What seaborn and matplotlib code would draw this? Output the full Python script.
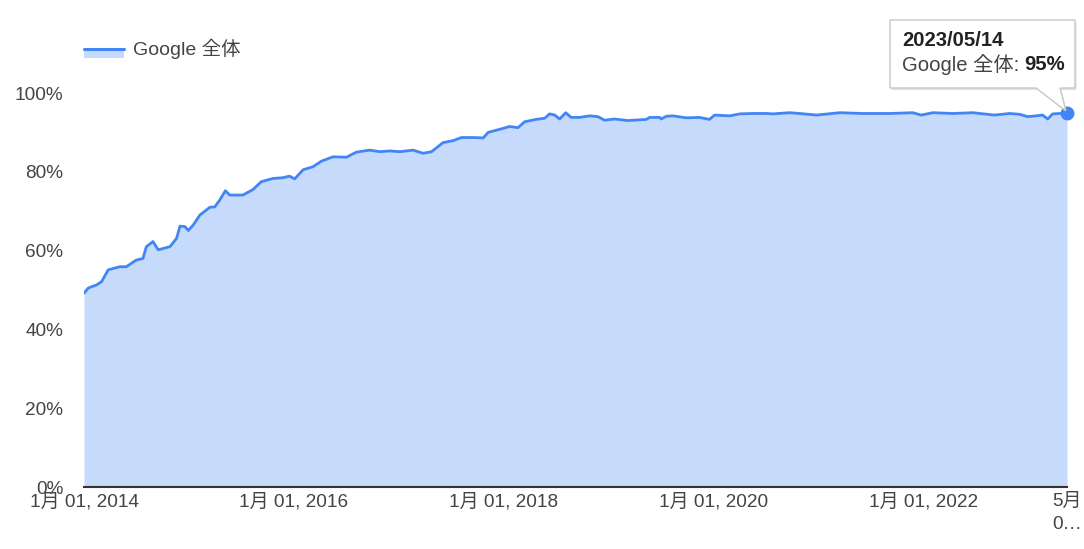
import numpy as np
import pandas as pd
import matplotlib
matplotlib.use("Agg")
import matplotlib.pyplot as plt
import matplotlib.dates as mdates
from matplotlib.patches import Polygon, Rectangle
from matplotlib.lines import Line2D
import seaborn as sns

# ---------------- data ----------------
dates = [
    "2014-01-01", "2014-01-16", "2014-02-14", "2014-03-03", "2014-03-26", "2014-05-05",
    "2014-05-28", "2014-07-02", "2014-07-25", "2014-08-06", "2014-08-29", "2014-09-16",
    "2014-10-27", "2014-11-19", "2014-12-01", "2014-12-18", "2014-12-30", "2015-01-16",
    "2015-02-08", "2015-03-15", "2015-04-01", "2015-04-18", "2015-05-08", "2015-05-23",
    "2015-06-15", "2015-07-08", "2015-08-12", "2015-09-10", "2015-10-20", "2015-11-24",
    "2015-12-17", "2016-01-04", "2016-02-02", "2016-03-08", "2016-04-06", "2016-05-16",
    "2016-07-02", "2016-08-06", "2016-09-21", "2016-10-26", "2016-11-30", "2017-01-04",
    "2017-02-19", "2017-03-26", "2017-04-24", "2017-06-03", "2017-07-08", "2017-08-06",
    "2017-09-16", "2017-10-21", "2017-11-07", "2017-12-18", "2018-01-21", "2018-02-19",
    "2018-03-14", "2018-04-23", "2018-05-23", "2018-06-09", "2018-06-27", "2018-07-14",
    "2018-08-04", "2018-08-23", "2018-09-21", "2018-10-26", "2018-11-24", "2018-12-17",
    "2019-01-21", "2019-03-08", "2019-05-11", "2019-05-23", "2019-06-27", "2019-07-02",
    "2019-07-20", "2019-08-11", "2019-09-27", "2019-11-12", "2019-12-17", "2020-01-04",
    "2020-02-25", "2020-04-01", "2020-05-16", "2020-07-02", "2020-07-25", "2020-09-21",
    "2020-10-26", "2020-12-23", "2021-03-15", "2021-06-03", "2021-09-04", "2021-11-23",
    "2021-12-23", "2022-02-01", "2022-04-11", "2022-06-20", "2022-09-04", "2022-10-26",
    "2022-11-30", "2022-12-28", "2023-01-26", "2023-02-18", "2023-03-08", "2023-03-25",
    "2023-04-18", "2023-05-14",
]
values = [
    49.2, 50.5, 51.3, 52.1, 55.1, 55.9,
    55.9, 57.6, 58.0, 61.0, 62.3, 60.2,
    61.0, 63.1, 66.2, 66.1, 65.1, 66.5,
    69.0, 71.0, 71.1, 72.8, 75.2, 74.1,
    74.1, 74.1, 75.5, 77.5, 78.3, 78.5,
    78.9, 78.2, 80.5, 81.3, 82.7, 83.8,
    83.7, 85.0, 85.5, 85.1, 85.3, 85.1,
    85.5, 84.7, 85.1, 87.4, 87.9, 88.7,
    88.7, 88.6, 90.0, 90.8, 91.5, 91.2,
    92.7, 93.3, 93.6, 94.7, 94.4, 93.4,
    95.0, 93.8, 93.8, 94.2, 94.0, 93.1,
    93.4, 93.0, 93.3, 93.8, 93.8, 93.4,
    94.1, 94.2, 93.7, 93.8, 93.3, 94.4,
    94.2, 94.7, 94.8, 94.8, 94.7, 95.0,
    94.8, 94.4, 95.0, 94.8, 94.8, 95.0,
    94.4, 95.0, 94.8, 95.0, 94.4, 94.8,
    94.6, 94.0, 94.2, 94.4, 93.4, 94.7,
    94.8, 95.0,
]
series_name = "Google 全体"
tick_dates = ["2014-01-01", "2016-01-01", "2018-01-01", "2020-01-01", "2022-01-01", "2023-05-14"]
tick_labels = ["1月 01, 2014", "1月 01, 2016", "1月 01, 2018", "1月 01, 2020", "1月 01, 2022", "5月\n0…"]
y_ticks = [0, 20, 40, 60, 80, 100]
y_tick_labels = ["0%", "20%", "40%", "60%", "80%", "100%"]
tooltip_date = "2023/05/14"
tooltip_value = "95%"

# ---------------- style ----------------
LINE = "#4285F4"
FILL = "#C6DAFB"
TXT = "#444444"

sns.set_theme(style="white")
plt.rcParams["font.family"] = ["Liberation Sans", "Noto Sans CJK JP", "DejaVu Sans"]

df = pd.DataFrame({"date": pd.to_datetime(dates), "value": values})

W, H = 1084, 549
fig = plt.figure(figsize=(W / 100, H / 100), dpi=100)
ax = fig.add_axes([84 / W, 1 - 487 / H, (1067 - 84) / W, (487 - 93) / H])

ax.fill_between(df["date"], 0, df["value"], color=FILL, linewidth=0, zorder=1)
sns.lineplot(data=df, x="date", y="value", ax=ax, color=LINE, linewidth=2.0, zorder=3)
ax.plot(df["date"].iloc[-1:], df["value"].iloc[-1:], "o", color=LINE,
        markersize=9, zorder=6, clip_on=False)

ax.set_xlim(df["date"].iloc[0], df["date"].iloc[-1])
ax.set_ylim(0, 100)
ax.set_xlabel("")
ax.set_ylabel("")

ax.set_yticks(y_ticks)
ax.set_yticklabels(y_tick_labels, fontsize=13.7, color=TXT)
ax.set_xticks(pd.to_datetime(tick_dates))
ax.set_xticklabels(tick_labels, fontsize=13.7, color=TXT)
ax.tick_params(axis="y", length=0, pad=15)
ax.tick_params(axis="x", length=0, pad=4)
last = ax.get_xticklabels()[-1]
last.set_multialignment("left")
last.set_linespacing(1.5)

for s in ["top", "right", "left"]:
    ax.spines[s].set_visible(False)
ax.spines["bottom"].set_color("#333333")
ax.spines["bottom"].set_linewidth(1.5)
ax.spines["bottom"].set_zorder(5)
ax.grid(False)

# ---------------- legend (custom, pixel positioned) ----------------
def fx(px):
    return px / W

def fy(py):
    return 1 - py / H

fig.add_artist(Rectangle((fx(84), fy(58)), fx(124) - fx(84), fy(49.5) - fy(58),
                         transform=fig.transFigure, facecolor=FILL, edgecolor="none"))
fig.add_artist(Line2D([fx(84), fx(124)], [fy(48.8), fy(48.8)], transform=fig.transFigure,
                      color=LINE, linewidth=2.2))
fig.text(fx(133), fy(49), series_name, fontsize=14, color=TXT, va="center", ha="left")

# ---------------- tooltip ----------------
box = [(890, 20), (1075, 20), (1075, 88), (1060, 88), (1066, 111), (1036, 88), (890, 88)]
shadow = [(x + 1.5, y + 2) for x, y in box]
fig.add_artist(Polygon([(fx(x), fy(y)) for x, y in shadow], closed=True,
                       transform=fig.transFigure, facecolor="#000000", alpha=0.12,
                       edgecolor="none", zorder=4))
fig.add_artist(Polygon([(fx(x), fy(y)) for x, y in box], closed=True,
                       transform=fig.transFigure, facecolor="white",
                       edgecolor="#c8c8c8", linewidth=1.0, zorder=5))
fig.text(fx(902), fy(40), tooltip_date, fontsize=14.6, fontweight="bold", color="#222222",
         va="center", ha="left", zorder=7)
t1 = fig.text(fx(902), fy(65), "Google 全体:", fontsize=14.6, color=TXT,
              va="center", ha="left", zorder=7)
fig.canvas.draw()
bb = t1.get_window_extent()
fig.text((bb.x1 + 5) / W, fy(65), tooltip_value, fontsize=14.6, fontweight="bold",
         color="#222222", va="center", ha="left", zorder=7)

ax.set_zorder(1)
fig.savefig("out.png", dpi=100)
